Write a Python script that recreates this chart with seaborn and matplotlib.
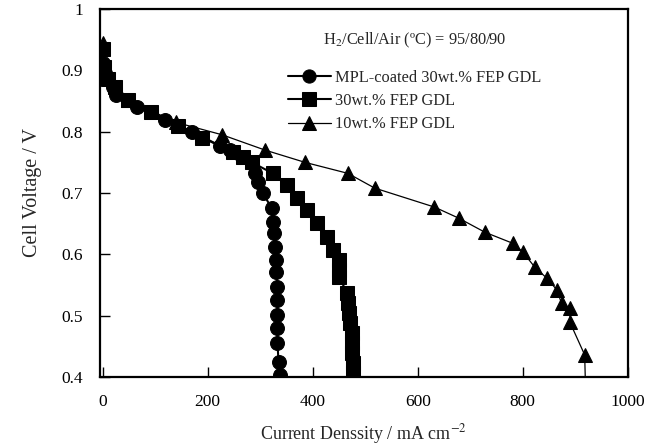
import numpy as np
import pandas as pd
import matplotlib
matplotlib.use('Agg')
import matplotlib.pyplot as plt
import seaborn as sns

# polarization curves
mpl_x = [0, 5, 20, 25, 65, 118, 171, 223, 242, 265, 284, 290, 295, 305, 322, 324,
         326, 328, 330, 331, 333, 333, 333, 333, 333, 335, 337]
mpl_y = [0.912, 0.895, 0.873, 0.86, 0.84, 0.819, 0.80, 0.777, 0.77, 0.759, 0.749,
         0.732, 0.718, 0.70, 0.675, 0.653, 0.635, 0.612, 0.591, 0.571, 0.547, 0.525,
         0.501, 0.48, 0.455, 0.424, 0.403]

fep30_x = [0, 2, 10, 23, 48, 93, 143, 190, 248, 267, 284, 324, 352, 371, 390, 408,
           427, 438, 451, 451, 451, 465, 467, 470, 472, 474, 474, 475, 476, 476]
fep30_y = [0.935, 0.905, 0.885, 0.873, 0.852, 0.832, 0.81, 0.79, 0.767, 0.758, 0.75,
           0.732, 0.713, 0.692, 0.672, 0.651, 0.628, 0.607, 0.59, 0.575, 0.563, 0.537,
           0.52, 0.504, 0.488, 0.471, 0.455, 0.439, 0.422, 0.406]

fep10_x = [0, 3, 48, 140, 227, 309, 385, 467, 518, 632, 678, 728, 781, 800, 823, 846,
           865, 874, 890, 890, 918, 920]
fep10_y = [0.945, 0.895, 0.852, 0.815, 0.795, 0.77, 0.75, 0.732, 0.708, 0.677, 0.659,
           0.636, 0.618, 0.604, 0.579, 0.561, 0.542, 0.52, 0.512, 0.489, 0.436, 0.37]

labels = ['MPL-coated 30wt.% FEP GDL', '30wt.% FEP GDL', '10wt.% FEP GDL']

sns.set_style('ticks')
plt.rcParams['font.family'] = ['Liberation Serif', 'DejaVu Serif']
plt.rcParams['mathtext.fontset'] = 'stix'

fig = plt.figure(figsize=(6.58, 4.48), dpi=100)
ax = fig.add_axes([0.152, 0.1585, 0.802, 0.8215])

sns.lineplot(x=mpl_x, y=mpl_y, ax=ax, sort=False, estimator=None, color='black',
             marker='o', markersize=10, markeredgecolor='black', linewidth=1.5,
             label=labels[0])
sns.lineplot(x=fep30_x, y=fep30_y, ax=ax, sort=False, estimator=None, color='black',
             marker='s', markersize=10, markeredgecolor='black', linewidth=1.5,
             label=labels[1])
sns.lineplot(x=fep10_x, y=fep10_y, ax=ax, sort=False, estimator=None, color='black',
             marker='^', markersize=10, markeredgecolor='black', linewidth=0.9,
             label=labels[2])

ax.set_xlim(-5, 1000)
ax.set_ylim(0.4, 1.0)
ax.set_xticks([0, 200, 400, 600, 800, 1000])
ax.set_xticklabels(['0', '200', '400', '600', '800', '1000'])
ax.set_yticks([0.4, 0.5, 0.6, 0.7, 0.8, 0.9, 1.0])
ax.set_yticklabels(['0.4', '0.5', '0.6', '0.7', '0.8', '0.9', '1'])
ax.tick_params(direction='in', length=7, width=1, labelsize=12.5, pad=12, colors='black')
for s in ax.spines.values():
    s.set_visible(True)
    s.set_linewidth(1.6)
    s.set_color('black')

ax.set_xlabel('Current Denssity / mA cm$^{-2}$', fontsize=13, labelpad=9)
ax.set_ylabel('Cell Voltage / V', fontsize=14.5, labelpad=14)

leg = ax.legend(title='H$_2$/Cell/Air (ºC) = 95/80/90', loc='upper right',
                bbox_to_anchor=(0.865, 0.98), frameon=False, fontsize=11.8,
                title_fontsize=11.8, handlelength=2.6, handletextpad=0.3,
                labelspacing=0.45, markerscale=0.95)
leg._legend_box.sep = 14

fig.savefig('out.png', dpi=100)
